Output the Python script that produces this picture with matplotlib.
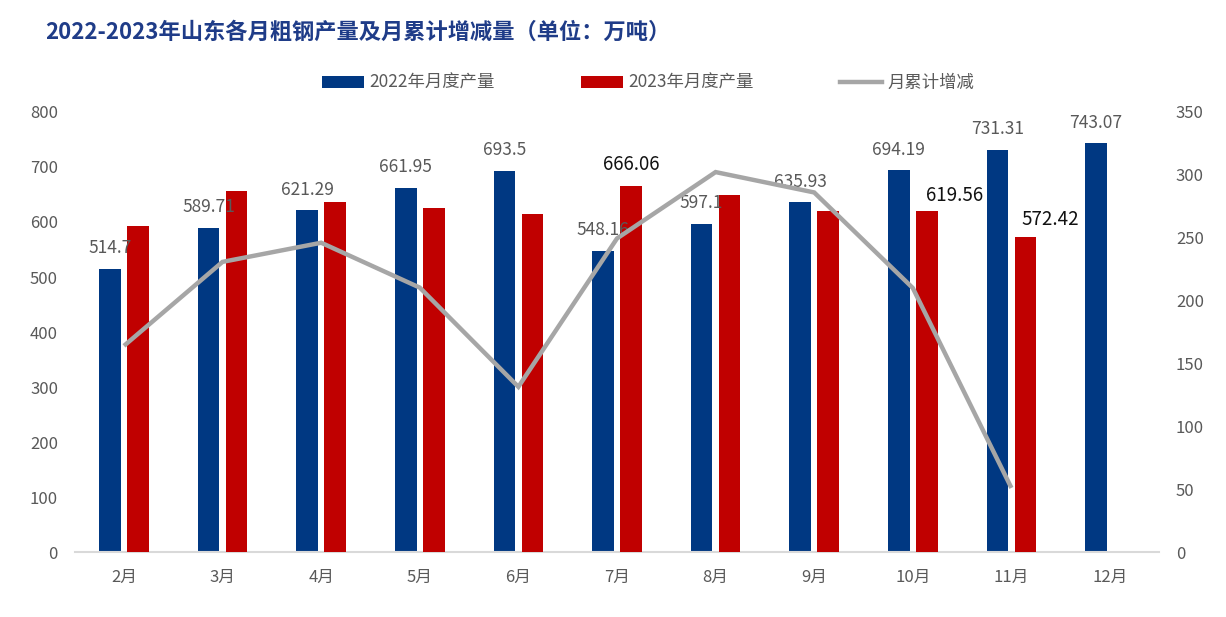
import matplotlib
matplotlib.use("Agg")
import matplotlib.pyplot as plt
import numpy as np
from matplotlib.patches import Patch
from matplotlib.lines import Line2D

plt.rcParams['font.family'] = ['Noto Sans CJK SC', 'DejaVu Sans']

months = ['2月', '3月', '4月', '5月', '6月', '7月', '8月', '9月', '10月', '11月', '12月']
prod_2022 = [514.7, 589.71, 621.29, 661.95, 693.5, 548.16, 597.1, 635.93, 694.19, 731.31, 743.07]
prod_2023 = [592.7, 656.4, 636.4, 625.5, 614.5, 666.06, 649.0, 620.6, 619.56, 572.42]
cum_change = [164.0, 230.8, 246.0, 210.3, 131.4, 249.4, 302.2, 286.0, 210.0, 51.0]
labeled_2023 = {5: (0, 15), 8: (20, 11.5), 9: (18, 13)}  # index: offset in points

title = '2022-2023年山东各月粗钢产量及月累计增减量（单位：万吨）'
leg_names = ['2022年月度产量', '2023年月度产量', '月累计增减']

BLUE = '#003882'
RED = '#C00000'
GRAY = '#A6A6A6'
TXT = '#595959'

fig = plt.figure(figsize=(12.26, 6.17), dpi=100)
ax = fig.add_axes([0.0609, 0.1053, 0.8847, 0.7132])
ax2 = ax.twinx()

x = np.arange(len(months))
w = 0.218
off = 0.142

ax.bar(x - off, prod_2022, width=w, color=BLUE, zorder=2)
x23 = np.arange(len(prod_2023))
ax.bar(x23 + off, prod_2023, width=w, color=RED, zorder=3)

for i, v in enumerate(prod_2022):
    ax.annotate(f'{v:g}', (x[i] - off, v), xytext=(0, 14.8), textcoords='offset points',
                ha='center', va='center', fontsize=12.5, color=TXT, zorder=5)
for i, (dx, dy) in labeled_2023.items():
    v = prod_2023[i]
    ax.annotate(f'{v:g}', (x23[i] + off, v), xytext=(dx, dy), textcoords='offset points',
                ha='center', va='center', fontsize=13.5, color='#111111', zorder=5)

ax2.plot(np.arange(len(cum_change)), cum_change, color=GRAY, lw=3.2, solid_capstyle='butt',
         solid_joinstyle='miter', zorder=4)

ax.set_xlim(-0.5, len(months) - 0.5)
ax.set_ylim(0, 800)
ax.set_yticks(np.arange(0, 801, 100))
ax2.set_ylim(0, 350)
ax2.set_yticks(np.arange(0, 351, 50))

ax.set_xticks(x)
ax.set_xticklabels(months)
for a in (ax, ax2):
    for s in a.spines.values():
        s.set_visible(False)
ax.spines['bottom'].set_visible(True)
ax.spines['bottom'].set_color('#D9D9D9')
ax.spines['bottom'].set_linewidth(1.5)

ax.tick_params(axis='x', length=0, pad=12, labelsize=12, labelcolor=TXT)
ax.tick_params(axis='y', length=0, pad=12, labelsize=12, labelcolor=TXT)
ax2.tick_params(axis='y', length=0, pad=12, labelsize=12, labelcolor=TXT)

fig.text(45 / 1226, 1 - 32 / 617, title, fontsize=16, fontweight='bold', color='#1F3C88',
         ha='left', va='center')

handles = [Patch(facecolor=BLUE, edgecolor='none'),
           Patch(facecolor=RED, edgecolor='none'),
           Line2D([0], [0], color=GRAY, lw=3.2)]
fig.legend(handles, leg_names, loc='center', bbox_to_anchor=(0.5285, 1 - 83 / 617), ncol=3,
           frameon=False, fontsize=12.5, labelcolor=TXT, handlelength=2.4, handleheight=0.7,
           handletextpad=0.3, columnspacing=5.0)

fig.savefig('out.png', dpi=100)
